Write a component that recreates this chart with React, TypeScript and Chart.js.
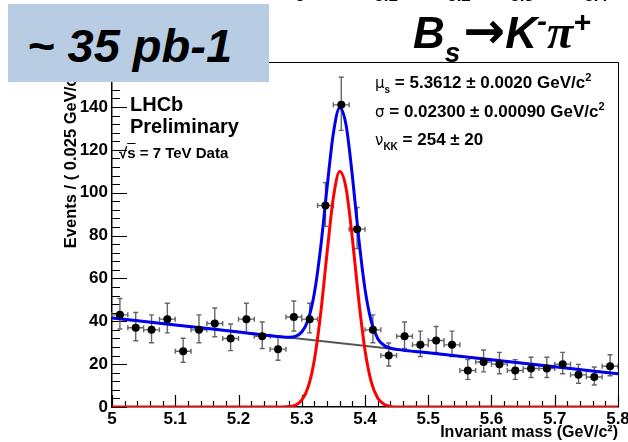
import React, { useEffect, useRef } from "react";
import { Chart, registerables } from "chart.js";

Chart.register(...registerables);

// ---------------- data ----------------
const binCenters = [
  5.0125, 5.0375, 5.0625, 5.0875, 5.1125, 5.1375, 5.1625, 5.1875,
  5.2125, 5.2375, 5.2625, 5.2875, 5.3125, 5.3375, 5.3625, 5.3875,
  5.4125, 5.4375, 5.4625, 5.4875, 5.5125, 5.5375, 5.5625, 5.5875,
  5.6125, 5.6375, 5.6625, 5.6875, 5.7125, 5.7375, 5.7625, 5.7875,
];
const counts = [
  43, 37, 36, 41, 26, 36, 39, 32,
  41, 33, 27, 42, 41, 94, 141, 83,
  36, 24, 33, 29, 31, 29, 17, 21,
  20, 17, 18, 18, 20, 15, 14, 19,
];
const errLow = [
  6.6, 6.1, 6.0, 6.4, 5.1, 6.0, 6.2, 5.7,
  6.4, 5.7, 5.2, 6.5, 6.4, 9.7, 11.9, 9.1,
  6.0, 4.9, 5.7, 5.4, 5.6, 5.4, 4.1, 4.6,
  4.5, 4.1, 4.2, 4.2, 4.5, 3.9, 3.7, 4.4,
];
const errHigh = [
  7.6, 7.1, 7.0, 7.4, 6.1, 7.0, 7.2, 6.7,
  7.4, 6.7, 6.2, 7.5, 7.4, 10.7, 12.9, 10.1,
  7.0, 5.9, 6.7, 6.4, 6.6, 6.4, 5.1, 5.6,
  5.5, 5.1, 5.2, 5.2, 5.5, 4.9, 4.7, 5.4,
];
const binHalfWidth = 0.0125;

const curveX = [
  5.0, 5.1, 5.2, 5.27, 5.28, 5.29, 5.3, 5.31, 5.32, 5.33, 5.34, 5.35, 5.36,
  5.37, 5.38, 5.39, 5.4, 5.41, 5.42, 5.43, 5.44, 5.45, 5.5, 5.6, 5.7, 5.8,
];
const signalY = [
  0, 0, 0, 0, 0.2, 0.9, 3.2, 9.2, 22.1, 43.8, 71.9, 97.7, 109.9,
  102.2, 78.8, 50.2, 26.5, 11.6, 4.2, 1.3, 0.3, 0, 0, 0, 0, 0,
];
const totalY = [
  41.5, 38.3, 35.0, 32.7, 32.6, 33.0, 35.0, 40.6, 53.2, 74.6, 102.4, 127.8, 139.7,
  131.7, 107.9, 79.0, 55.0, 39.8, 32.0, 28.8, 27.5, 26.9, 25.3, 22.0, 18.8, 15.5,
];
const bkgX = [5.0, 5.8];
const bkgY = [41.5, 15.5];

const xTickValues = [5, 5.1, 5.2, 5.3, 5.4, 5.5, 5.6, 5.7, 5.8];
const xTickLabels = ["5", "5.1", "5.2", "5.3", "5.4", "5.5", "5.6", "5.7", "5.8"];
const yTickValues = [0, 20, 40, 60, 80, 100, 120, 140, 160];
const yTickLabels = ["0", "20", "40", "60", "80", "100", "120", "140", "160"];

const topRemnantLabels = ["5", "5.1", "5.2", "5.3", "5.4"];
const topRemnantCenters = [300, 386, 459, 522, 596];

// ---------------- styling ----------------
const FONT = '"Liberation Sans", Arial, Helvetica, sans-serif';
const W = 628;
const H = 442;

const pts = (xs: number[], ys: number[]) => xs.map((x, i) => ({ x, y: ys[i] }));

const insideTicks = {
  id: "insideTicks",
  beforeDatasetsDraw(chart: any) {
    const { ctx, chartArea: a, scales } = chart;
    const xs = scales.x;
    const ys = scales.y;
    ctx.save();
    ctx.strokeStyle = "#000";
    ctx.lineWidth = 1.2;
    ctx.beginPath();
    for (let i = 0; i <= 40; i++) {
      const v = i * 4;
      const py = Math.round(ys.getPixelForValue(v)) + 0.5;
      const len = i % 5 === 0 ? 15 : 8;
      ctx.moveTo(a.left, py);
      ctx.lineTo(a.left + len, py);
    }
    for (let i = 0; i <= 40; i++) {
      const v = 5 + i * 0.02;
      const px = Math.round(xs.getPixelForValue(v)) + 0.5;
      const len = i % 5 === 0 ? 12 : 6;
      ctx.moveTo(px, a.bottom);
      ctx.lineTo(px, a.bottom - len);
    }
    ctx.stroke();

    // error bars
    ctx.strokeStyle = "#666666";
    ctx.lineWidth = 1.4;
    ctx.beginPath();
    for (let i = 0; i < binCenters.length; i++) {
      const cx = xs.getPixelForValue(binCenters[i]);
      const cy = ys.getPixelForValue(counts[i]);
      const x0 = xs.getPixelForValue(binCenters[i] - binHalfWidth);
      const x1 = xs.getPixelForValue(binCenters[i] + binHalfWidth);
      const y0 = ys.getPixelForValue(counts[i] - errLow[i]);
      const y1 = ys.getPixelForValue(counts[i] + errHigh[i]);
      ctx.moveTo(cx, y0);
      ctx.lineTo(cx, y1);
      ctx.moveTo(x0, cy);
      ctx.lineTo(x1, cy);
      ctx.moveTo(cx - 2.5, y0);
      ctx.lineTo(cx + 2.5, y0);
      ctx.moveTo(cx - 2.5, y1);
      ctx.lineTo(cx + 2.5, y1);
      ctx.moveTo(x0, cy - 2.5);
      ctx.lineTo(x0, cy + 2.5);
      ctx.moveTo(x1, cy - 2.5);
      ctx.lineTo(x1, cy + 2.5);
    }
    ctx.stroke();
    ctx.restore();
  },
  afterDraw(chart: any) {
    const { ctx, chartArea: a } = chart;
    ctx.save();
    ctx.strokeStyle = "#000";
    ctx.lineWidth = 1;
    ctx.beginPath();
    ctx.moveTo(a.left, a.top + 0.5);
    ctx.lineTo(a.right + 0.5, a.top + 0.5);
    ctx.lineTo(a.right + 0.5, a.bottom);
    ctx.stroke();
    ctx.restore();
  },
};

function ChartCanvas() {
  const ref = useRef<HTMLCanvasElement | null>(null);
  useEffect(() => {
    if (!ref.current) return;
    const tickFont = { family: FONT, size: 17, weight: "bold" as const };
    const chart = new Chart(ref.current, {
      type: "scatter",
      data: {
        datasets: [
          {
            label: "Data",
            data: pts(binCenters, counts),
            pointRadius: 4,
            pointHoverRadius: 4,
            backgroundColor: "#000",
            borderWidth: 0,
            showLine: false,
          },
          {
            label: "Total fit",
            data: pts(curveX, totalY),
            showLine: true,
            borderColor: "#0000f0",
            borderWidth: 3,
            pointRadius: 0,
            cubicInterpolationMode: "monotone",
          },
          {
            label: "Signal",
            data: pts(curveX, signalY),
            showLine: true,
            borderColor: "#ff0000",
            borderWidth: 3,
            pointRadius: 0,
            cubicInterpolationMode: "monotone",
          },
          {
            label: "Background",
            data: pts(bkgX, bkgY),
            showLine: true,
            borderColor: "#555555",
            borderWidth: 2,
            pointRadius: 0,
          },
        ],
      },
      options: {
        responsive: false,
        animation: false,
        devicePixelRatio: 1,
        layout: { padding: { left: 0, right: 10, top: 62, bottom: 0 } },
        plugins: { legend: { display: false }, tooltip: { enabled: false } },
        scales: {
          x: {
            type: "linear",
            min: 5,
            max: 5.8,
            afterBuildTicks: (s: any) => {
              s.ticks = xTickValues.map((v) => ({ value: v }));
            },
            afterFit: (s: any) => {
              s.height = 35;
              s.paddingLeft = 0;
              s.paddingRight = 0;
            },
            ticks: {
              autoSkip: false,
              maxRotation: 0,
              padding: 2,
              color: "#000",
              font: tickFont,
              callback: (_v: any, i: number) => xTickLabels[i],
            },
            grid: { display: false, drawTicks: false },
            border: { display: true, color: "#000", width: 1.5 },
            title: {
              display: true,
              text: "Invariant mass (GeV/c²)",
              align: "end",
              color: "#000",
              font: { family: FONT, size: 16, weight: "bold" },
              padding: { top: 0, bottom: 0 },
            },
          },
          y: {
            type: "linear",
            min: 0,
            max: 161,
            afterBuildTicks: (s: any) => {
              s.ticks = yTickValues.map((v) => ({ value: v }));
            },
            afterFit: (s: any) => {
              s.width = 112;
              s.paddingTop = 0;
              s.paddingBottom = 0;
            },
            ticks: {
              padding: 4,
              color: "#000",
              font: tickFont,
              callback: (_v: any, i: number) => yTickLabels[i],
            },
            grid: { display: false, drawTicks: false },
            border: { display: true, color: "#000", width: 1.5 },
            title: {
              display: true,
              text: "Events / ( 0.025 GeV/c² )",
              align: "end",
              color: "#000",
              font: { family: FONT, size: 16.5, weight: "bold" },
              padding: { top: 62, bottom: 0 },
            },
          },
        },
      },
      plugins: [insideTicks],
    } as any);
    return () => chart.destroy();
  }, []);
  return (
    <canvas
      ref={ref}
      width={W}
      height={H}
      style={{ position: "absolute", left: 0, top: 0, width: W, height: H }}
    />
  );
}

const ASC = 0.8465;
const abs = (left: number, baseline: number, size: number, extra: React.CSSProperties = {}): React.CSSProperties => ({
  position: "absolute",
  left,
  top: baseline - ASC * size,
  fontSize: size,
  lineHeight: 1,
  whiteSpace: "nowrap",
  fontFamily: FONT,
  color: "#000",
  ...extra,
});

export default function App() {
  const sym: React.CSSProperties = { fontWeight: "normal", fontFamily: '"DejaVu Sans", sans-serif', fontSize: 15 };
  return (
    <div
      style={{
        position: "fixed",
        left: 0,
        top: 0,
        width: W,
        height: H,
        background: "#fff",
        overflow: "hidden",
      }}
    >
      <ChartCanvas />

      {/* remnants of a neighbouring plot's axis labels at the very top */}
      {topRemnantLabels.map((t, i) => (
        <span
          key={t}
          style={abs(topRemnantCenters[i] - 20, 1.5, 17, { fontWeight: "bold", width: 40, textAlign: "center" })}
        >
          {t}
        </span>
      ))}

      {/* luminosity box */}
      <div
        style={{
          position: "absolute",
          left: 8,
          top: 4,
          width: 261,
          height: 78,
          background: "#b8cce4",
        }}
      />
      <span style={abs(27, 62, 47, { fontWeight: "bold", fontStyle: "italic" })}>~ 35 pb-1</span>

      {/* decay title */}
      <div style={abs(413, 43, 44, { fontWeight: "bold", fontStyle: "italic" })}>
        B
        <span style={{ fontSize: 28, position: "relative", top: 14 }}>s</span>
        <span
          style={{
            fontFamily: '"DejaVu Sans", sans-serif',
            fontStyle: "normal",
            fontSize: 50,
            marginLeft: 3,
          }}
        >
          →
        </span>
        K
        <span style={{ fontSize: 30, position: "relative", top: -17 }}>-</span>
        <span style={{ fontFamily: '"Liberation Serif", serif', fontSize: 48 }}>π</span>
        <span style={{ fontSize: 30, position: "relative", top: -16 }}>+</span>
      </div>

      {/* LHCb label */}
      <span style={abs(130, 111, 20, { fontWeight: "bold" })}>LHCb</span>
      <span style={abs(130, 133, 20, { fontWeight: "bold" })}>Preliminary</span>
      <span style={abs(119, 158, 15, { fontWeight: "bold" })}>
        √<span style={{ textDecoration: "overline" }}>s</span> = 7 TeV Data
      </span>

      {/* fit parameters */}
      <span style={abs(375, 88, 17, { fontWeight: "bold" })}>
        <span style={sym}>μ</span>
        <span style={{ fontSize: 10, position: "relative", top: 5 }}>s</span> = 5.3612 ± 0.0020 GeV/c
        <span style={{ fontSize: 11, position: "relative", top: -7 }}>2</span>
      </span>
      <span style={abs(375, 117, 17, { fontWeight: "bold" })}>
        <span style={sym}>σ</span> = 0.02300 ± 0.00090 GeV/c
        <span style={{ fontSize: 11, position: "relative", top: -7 }}>2</span>
      </span>
      <span style={abs(375, 145, 17, { fontWeight: "bold" })}>
        <span style={sym}>ν</span>
        <span style={{ fontSize: 10, position: "relative", top: 5 }}>KK</span> = 254 ± 20
      </span>
    </div>
  );
}
